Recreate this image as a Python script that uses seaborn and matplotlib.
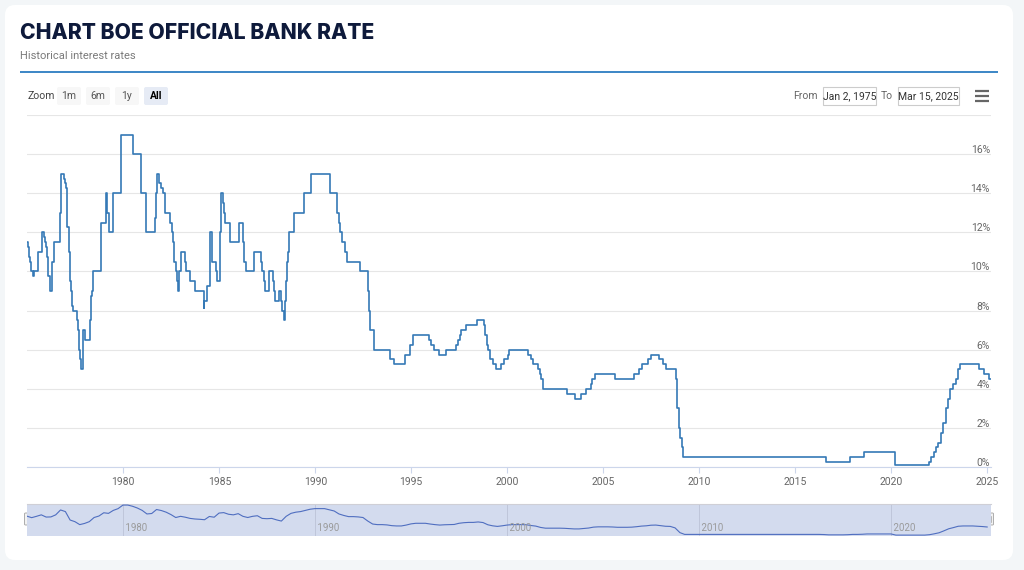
import pandas as pd
import numpy as np
import matplotlib
matplotlib.use("Agg")
import matplotlib.pyplot as plt
import matplotlib.dates as mdates
import matplotlib.transforms as mtransforms
from matplotlib.patches import FancyBboxPatch, Rectangle
import seaborn as sns

# Bank rate changes (date the new rate took effect, rate in %)
change_dates = [
    "1975-01-02", "1975-01-17", "1975-01-24", "1975-02-07", "1975-02-14", "1975-03-07",
    "1975-03-21", "1975-04-18", "1975-05-02", "1975-07-25", "1975-10-03", "1975-11-14",
    "1975-11-28", "1975-12-24",
    "1976-01-02", "1976-01-16", "1976-01-23", "1976-01-30", "1976-02-06", "1976-02-27",
    "1976-03-05", "1976-03-12", "1976-04-23", "1976-05-21", "1976-09-10", "1976-10-07",
    "1976-11-19", "1976-12-24",
    "1977-01-07", "1977-01-21", "1977-01-28", "1977-02-03", "1977-03-10", "1977-03-18",
    "1977-03-31", "1977-04-07", "1977-04-15", "1977-04-22", "1977-04-29", "1977-05-13",
    "1977-08-12", "1977-08-19", "1977-09-09", "1977-09-16", "1977-10-07", "1977-10-14",
    "1977-11-25",
    "1978-01-06", "1978-04-11", "1978-05-05", "1978-05-12", "1978-06-08", "1978-11-09",
    "1979-02-08", "1979-03-01", "1979-04-05", "1979-06-12", "1979-11-15",
    "1980-07-03", "1980-11-24",
    "1981-03-10", "1981-08-25", "1981-09-16", "1981-10-08", "1981-11-09", "1981-12-10",
    "1982-01-22", "1982-02-25", "1982-03-12", "1982-06-08", "1982-07-13", "1982-08-02",
    "1982-08-18", "1982-08-31", "1982-10-07", "1982-10-14", "1982-11-04", "1982-11-26",
    "1983-01-12", "1983-03-15", "1983-04-15", "1983-06-15", "1983-10-04",
    "1984-03-07", "1984-03-12", "1984-03-15", "1984-05-10", "1984-07-09", "1984-07-12",
    "1984-08-09", "1984-08-10", "1984-08-20", "1984-11-07", "1984-11-20", "1984-11-23",
    "1985-01-11", "1985-01-14", "1985-01-28", "1985-03-21", "1985-03-29", "1985-04-02",
    "1985-04-12", "1985-04-19", "1985-07-15", "1985-07-29",
    "1986-01-09", "1986-03-19", "1986-04-08", "1986-04-21", "1986-05-27", "1986-10-14",
    "1987-03-10", "1987-03-18", "1987-04-28", "1987-05-11", "1987-08-07", "1987-10-26",
    "1987-11-05", "1987-12-04",
    "1988-02-02", "1988-03-17", "1988-04-11", "1988-05-17", "1988-06-02", "1988-06-06",
    "1988-06-22", "1988-06-28", "1988-07-05", "1988-07-19", "1988-08-08", "1988-08-25",
    "1988-11-25",
    "1989-05-24", "1989-10-05",
    "1990-10-08",
    "1991-02-13", "1991-02-27", "1991-03-22", "1991-04-12", "1991-05-24", "1991-07-12",
    "1991-09-04",
    "1992-05-05", "1992-09-22", "1992-10-16", "1992-11-13",
    "1993-01-26", "1993-11-23",
    "1994-02-08", "1994-09-12", "1994-12-07",
    "1995-02-02", "1995-12-13",
    "1996-01-18", "1996-03-08", "1996-06-06", "1996-10-30",
    "1997-05-06", "1997-06-06", "1997-07-10", "1997-08-07", "1997-11-06",
    "1998-06-04", "1998-10-08", "1998-11-05", "1998-12-10",
    "1999-01-07", "1999-02-04", "1999-04-08", "1999-06-10", "1999-09-08", "1999-11-04",
    "2000-01-13", "2000-02-10",
    "2001-02-08", "2001-04-05", "2001-05-10", "2001-08-02", "2001-09-18", "2001-10-04",
    "2001-11-08",
    "2003-02-06", "2003-07-10", "2003-11-06",
    "2004-02-05", "2004-05-06", "2004-06-10", "2004-08-05",
    "2005-08-04",
    "2006-08-03", "2006-11-09",
    "2007-01-11", "2007-05-10", "2007-07-05", "2007-12-06",
    "2008-02-07", "2008-04-10", "2008-10-08", "2008-11-06", "2008-12-04",
    "2009-01-08", "2009-02-05", "2009-03-05",
    "2016-08-04", "2017-11-02", "2018-08-02",
    "2020-03-11", "2020-03-19",
    "2021-12-16",
    "2022-02-03", "2022-03-17", "2022-05-05", "2022-06-16", "2022-08-04", "2022-09-22",
    "2022-11-03", "2022-12-15",
    "2023-02-02", "2023-03-23", "2023-05-11", "2023-06-22", "2023-08-03",
    "2024-08-01", "2024-11-07",
    "2025-02-06", "2025-03-15",
]
bank_rate = [
    11.5, 11.25, 11.0, 10.75, 10.5, 10.25,
    10.0, 9.75, 10.0, 11.0, 12.0, 11.75,
    11.5, 11.25,
    11.0, 10.75, 10.5, 10.0, 9.75, 9.5,
    9.25, 9.0, 10.5, 11.5, 13.0, 15.0,
    14.75, 14.5,
    14.25, 14.0, 13.25, 12.25, 11.0, 10.5,
    9.5, 9.25, 9.0, 8.75, 8.25, 8.0,
    7.5, 7.0, 6.5, 6.0, 5.5, 5.0,
    7.0,
    6.5, 7.5, 8.75, 9.0, 10.0, 12.5,
    14.0, 13.0, 12.0, 14.0, 17.0,
    16.0, 14.0,
    12.0, 12.75, 14.0, 15.0, 14.5, 14.25,
    14.0, 13.5, 13.0, 12.5, 12.0, 11.5,
    11.0, 10.5, 10.0, 9.5, 9.0, 10.0,
    11.0, 10.5, 10.0, 9.5, 9.0,
    8.75, 8.125, 8.5, 9.25, 10.0, 12.0,
    11.5, 11.0, 10.5, 10.0, 9.75, 9.5,
    10.5, 12.0, 14.0, 13.5, 13.25, 13.0,
    12.75, 12.5, 12.0, 11.5,
    12.5, 11.5, 11.0, 10.5, 10.0, 11.0,
    10.5, 10.0, 9.5, 9.0, 10.0, 9.5,
    9.0, 8.5,
    9.0, 8.5, 8.0, 7.5, 8.0, 8.5,
    9.0, 9.5, 10.0, 10.5, 11.0, 12.0,
    13.0,
    14.0, 15.0,
    14.0,
    13.5, 13.0, 12.5, 12.0, 11.5, 11.0,
    10.5,
    10.0, 9.0, 8.0, 7.0,
    6.0, 5.5,
    5.25, 5.75, 6.25,
    6.75, 6.5,
    6.25, 6.0, 5.75, 6.0,
    6.25, 6.5, 6.75, 7.0, 7.25,
    7.5, 7.25, 6.75, 6.25,
    6.0, 5.5, 5.25, 5.0, 5.25, 5.5,
    5.75, 6.0,
    5.75, 5.5, 5.25, 5.0, 4.75, 4.5,
    4.0,
    3.75, 3.5, 3.75,
    4.0, 4.25, 4.5, 4.75,
    4.5,
    4.75, 5.0,
    5.25, 5.5, 5.75, 5.5,
    5.25, 5.0, 4.5, 3.0, 2.0,
    1.5, 1.0, 0.5,
    0.25, 0.5, 0.75,
    0.25, 0.1,
    0.25,
    0.5, 0.75, 1.0, 1.25, 1.75, 2.25,
    3.0, 3.5,
    4.0, 4.25, 4.5, 5.0, 5.25,
    5.0, 4.75,
    4.5, 4.5,
]
year_ticks = [1980, 1985, 1990, 1995, 2000, 2005, 2010, 2015, 2020, 2025]
nav_years = [1980, 1990, 2000, 2010, 2020]
pct_ticks = [0, 2, 4, 6, 8, 10, 12, 14, 16]
zoom_buttons = ["1m", "6m", "1y", "All"]

df = pd.DataFrame({"date": pd.to_datetime(change_dates), "rate": bank_rate})

# navigator series: monthly, then grouped by quarter like Highcharts data grouping
daily = df.set_index("date")["rate"].resample("MS").ffill()
nav = daily.resample("QS").mean().reset_index()

W, H = 1024, 570
fig = plt.figure(figsize=(W / 100, H / 100), dpi=100)
fig.patch.set_facecolor("#f3f6f8")
plt.rcParams["font.family"] = ["Roboto", "DejaVu Sans"]

# decoration layer in pixel coordinates
bg = fig.add_axes([0, 0, 1, 1])
bg.set_xlim(0, W)
bg.set_ylim(H, 0)
bg.axis("off")
bg.add_patch(FancyBboxPatch((5, 5), 1008, 555, boxstyle="round,pad=0,rounding_size=10",
                            fc="white", ec="none"))
bg.text(20, 33, "CHART BOE OFFICIAL BANK RATE", fontsize=15.2, fontweight="heavy",
        family=["Inter", "DejaVu Sans"], color="#0e1a3b", va="center", ha="left")
bg.text(20, 56, "Historical interest rates", fontsize=8, color="#7a7a7a", va="center")
bg.plot([20, 998], [72, 72], color="#3b86c6", lw=1.4, solid_capstyle="butt")

bg.text(28, 96, "Zoom", fontsize=7.5, color="#444444", va="center")
bx = 57
for lab in zoom_buttons:
    sel = lab == "All"
    bg.add_patch(FancyBboxPatch((bx, 87), 24, 18, boxstyle="round,pad=0,rounding_size=2",
                                fc="#e6ebf5" if sel else "#f7f7f7", ec="none"))
    bg.text(bx + 12, 96, lab, fontsize=7.5, ha="center", va="center",
            color="#000000" if sel else "#555555", fontweight="bold" if sel else "normal")
    bx += 29

bg.text(818, 96, "From", fontsize=7.5, color="#666666", ha="right", va="center")
bg.add_patch(Rectangle((823, 87), 53, 18, fc="white", ec="#cccccc", lw=0.8))
bg.text(849.5, 96, "Jan 2, 1975", fontsize=7.5, color="#333333", ha="center", va="center")
bg.text(893, 96, "To", fontsize=7.5, color="#666666", ha="right", va="center")
bg.add_patch(Rectangle((898, 87), 61, 18, fc="white", ec="#cccccc", lw=0.8))
bg.text(928.5, 96, "Mar 15, 2025", fontsize=7.5, color="#333333", ha="center", va="center")
for yy in (91, 96, 101):
    bg.plot([975, 989], [yy, yy], color="#666666", lw=1.6, solid_capstyle="butt")

# main chart
left, right, top, bottom = 27.4, 991, 115, 467
ax = fig.add_axes([left / W, 1 - bottom / H, (right - left) / W, (bottom - top) / H])
ax.set_facecolor("none")
sns.lineplot(data=df, x="date", y="rate", drawstyle="steps-post", color="#3579b6",
             lw=1.2, ax=ax, zorder=3)
ax.set_xlim(pd.Timestamp("1975-01-02"), pd.Timestamp("2025-03-15"))
ax.set_ylim(0, 18)
for v in range(0, 20, 2):
    ax.axhline(v, color="#e6e6e6", lw=0.8, zorder=1)
for s in ("top", "left", "right"):
    ax.spines[s].set_visible(False)
ax.spines["bottom"].set_color("#ccd6eb")
ax.spines["bottom"].set_linewidth(0.8)
ax.spines["bottom"].set_zorder(2)
ax.set_xticks([pd.Timestamp(f"{y}-01-01") for y in year_ticks])
ax.xaxis.set_major_formatter(mdates.DateFormatter("%Y"))
ax.tick_params(axis="x", length=4, width=0.8, color="#ccd6eb", labelsize=7.5,
               labelcolor="#666666", pad=3)
ax.set_yticks([])
ax.set_xlabel("")
ax.set_ylabel("")
lab_tr = mtransforms.blended_transform_factory(ax.transAxes, ax.transData) + \
    mtransforms.ScaledTranslation(-1 / 100, -1 / 100, fig.dpi_scale_trans)
for v in pct_ticks:
    ax.text(1.0, v, f"{v}%", transform=lab_tr, ha="right", va="bottom",
            fontsize=7.5, color="#666666")

# navigator
nl, nr, nt, nb = 27, 991, 504, 536
nax = fig.add_axes([nl / W, 1 - nb / H, (nr - nl) / W, (nb - nt) / H])
nax.set_facecolor("#d3dbee")
sns.lineplot(data=nav, x="date", y="rate", color="#4f6ec0", lw=0.8, ax=nax, zorder=3)
nax.set_xlim(pd.Timestamp("1975-01-02"), pd.Timestamp("2025-03-15"))
nax.set_ylim(-0.4, 17.6)
nax.set_xticks([])
nax.set_yticks([])
nax.set_xlabel("")
nax.set_ylabel("")
for s in ("left", "right", "bottom"):
    nax.spines[s].set_visible(False)
nax.spines["top"].set_color("#cfcfd6")
nax.spines["top"].set_linewidth(0.8)
nav_tr = mtransforms.blended_transform_factory(nax.transData, nax.transAxes)
for y in nav_years:
    d = pd.Timestamp(f"{y}-01-01")
    nax.axvline(d, color="#bfc6da", lw=0.7, zorder=1)
    nax.text(d, 0.08, f" {y}", transform=nav_tr, fontsize=7, color="#9a9a9a",
             ha="left", va="bottom")

for hx in (24.5, 987.5):
    bg.add_patch(FancyBboxPatch((hx, 513), 6, 12, boxstyle="round,pad=0,rounding_size=1",
                                fc="#f2f2f2", ec="#a0a0a0", lw=0.6, zorder=5))
    for lx in (hx + 2.3, hx + 3.7):
        bg.plot([lx, lx], [516, 522], color="#a0a0a0", lw=0.5, zorder=6)

fig.savefig("out.png", dpi=100, facecolor=fig.get_facecolor())
